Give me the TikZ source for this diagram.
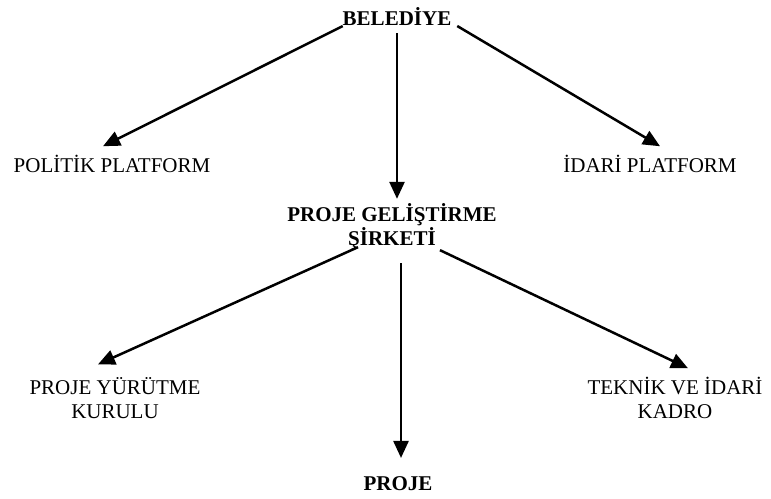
\documentclass[tikz,border=0pt]{standalone}
\usepackage{fontspec}
\setmainfont{Liberation Serif}
\usetikzlibrary{arrows.meta}
\begin{document}
\begin{tikzpicture}[x=1pt,y=-1pt,
  lbl/.style={font=\fontsize{21}{24}\selectfont,inner sep=0pt,outer sep=0pt,align=center},
  hd/.style={lbl,font=\fontsize{21}{24}\selectfont\bfseries},
  arr/.style={line width=2.5pt,-{Triangle[length=17pt,width=15pt]}}]
  \useasboundingbox (0,0) rectangle (771,498);
  \node[hd] (bel) at (397,17) {BELEDİYE};
  \node[lbl] (pol) at (112,164) {POLİTİK PLATFORM};
  \node[lbl] (ida) at (650,164) {İDARİ PLATFORM};
  \node[hd] (pgs) at (392,227) {PROJE GELİŞTİRME\\ŞİRKETİ};
  \node[lbl] (pyk) at (115,398) {PROJE YÜRÜTME\\KURULU};
  \node[lbl] (tek) at (675,398) {TEKNİK VE İDARİ\\KADRO};
  \node[hd] (prj) at (398,484) {PROJE};
  \draw[arr] (bel.south west) -- ([xshift=-9pt,yshift=9pt]pol.north);
  \draw[arr] ([xshift=6pt]bel.south east) -- ([xshift=10pt,yshift=9pt]ida.north);
  \draw[arr,shorten <=7pt,shorten >=5pt] (bel.south) -- (bel.south |- pgs.north);
  \draw[arr] ([xshift=-34pt,yshift=3pt]pgs.south) -- ([xshift=-17pt,yshift=13pt]pyk.north);
  \draw[arr] ([xshift=48pt]pgs.south) -- ([xshift=13pt,yshift=9pt]tek.north);
  \draw[arr,shorten <=13pt,shorten >=19pt] ([xshift=3pt]pgs.south -| prj.north) -- ([xshift=3pt]prj.north);
\end{tikzpicture}
\end{document}
